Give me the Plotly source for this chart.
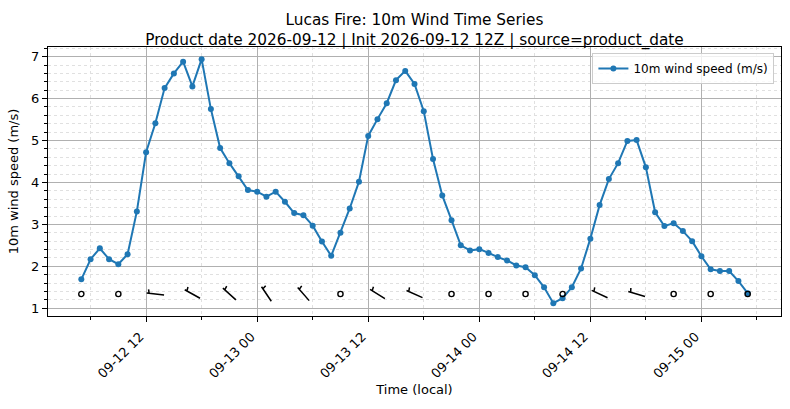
import numpy as np
import pandas as pd
import plotly.graph_objects as go

# hourly 10 m wind, local time
times = pd.date_range("2026-09-12 05:00", "2026-09-15 05:00", freq="h")
wind_speed = [
    1.69, 2.17, 2.43, 2.17, 2.05, 2.29, 3.31, 4.72, 5.41, 6.25, 6.60, 6.88,
    6.29, 6.94, 5.75, 4.82, 4.46, 4.15, 3.82,
    3.78, 3.66, 3.78, 3.54, 3.27, 3.22, 2.97, 2.59, 2.25, 2.80, 3.38, 4.02,
    5.11, 5.51, 5.89, 6.44, 6.66, 6.35, 5.70, 4.56, 3.69, 3.10, 2.50, 2.38,
    2.41, 2.32, 2.22, 2.14, 2.02, 1.98, 1.79, 1.50, 1.12, 1.24, 1.50, 1.95,
    2.66, 3.46, 4.08, 4.46, 4.99, 5.01, 4.36, 3.29, 2.96, 3.03, 2.84, 2.60,
    2.24, 1.93, 1.89, 1.89, 1.65, 1.36,
]

# barbs every 4 h, direction the wind blows from (deg), None = calm
barb_times = times[::4]
barb_dir = [None, None, 276, 299, 312, 326, 319, None, 302, 294,
            None, None, None, None, 295, 287, None, None, None]
barb_level = 1.34

title = ("Lucas Fire: 10m Wind Time Series<br>"
         "Product date 2026-09-12 | Init 2026-09-12 12Z | source=product_date")

FONT = "DejaVu Sans"
BLUE = "#1f77b4"

fig = go.Figure()
fig.add_trace(go.Scatter(
    x=times, y=wind_speed, mode="lines+markers", name="10m wind speed (m/s)",
    line=dict(color=BLUE, width=2), marker=dict(size=6, color=BLUE),
))

# wind barbs drawn as pixel-sized shapes anchored on the data
staff = 17.5
shapes = []
for t, d in zip(barb_times, barb_dir):
    if d is None:
        shapes.append(dict(
            type="circle", xref="x", yref="y", xsizemode="pixel", ysizemode="pixel",
            xanchor=t, yanchor=barb_level, x0=-2.6, x1=2.6, y0=-2.6, y1=2.6,
            line=dict(color="black", width=1.4), layer="above"))
        continue
    r = np.radians(d)
    ux, uy = np.sin(r), np.cos(r)
    nx, ny = uy, -ux
    ex, ey = ux * staff / 2, uy * staff / 2
    px, py = ex - 2.5 * ux, ey - 2.5 * uy
    tx, ty = px + 4 * nx + 1 * ux, py + 4 * ny + 1 * uy
    path = (f"M {-ex:.2f},{-ey:.2f} L {ex:.2f},{ey:.2f} "
            f"M {px:.2f},{py:.2f} L {tx:.2f},{ty:.2f}")
    shapes.append(dict(
        type="path", xref="x", yref="y", xsizemode="pixel", ysizemode="pixel",
        xanchor=t, yanchor=barb_level, path=path,
        line=dict(color="black", width=1.5), layer="above"))

grid_major = "#b0b0b0"
grid_minor = "#e0e0e0"

fig.update_layout(
    width=790, height=409,
    margin=dict(l=48, r=9, t=47, b=93),
    paper_bgcolor="white", plot_bgcolor="white",
    font=dict(family=FONT, size=13, color="black"),
    title=dict(text=title, x=0.5, xref="paper", xanchor="center",
               yref="container", y=1 - 25 / 409, yanchor="middle",
               font=dict(size=15.3), automargin=False),
    shapes=shapes,
    showlegend=True,
    legend=dict(x=0.991, y=0.978, xanchor="right", yanchor="top",
                bgcolor="rgba(255,255,255,0.8)", bordercolor="#cccccc",
                borderwidth=1, font=dict(size=12)),
)

fig.update_xaxes(
    automargin=False,
    range=["2026-09-12 01:24", "2026-09-15 08:36"],
    tick0="2026-09-12 00:00", dtick=12 * 3600 * 1000, tickformat="%m-%d %H",
    tickangle=-45, ticks="outside", ticklen=5, tickcolor="black",
    ticklabelshift=-6, ticklabelstandoff=2,
    showline=True, linecolor="black", linewidth=1, mirror=True,
    showgrid=True, gridcolor=grid_major, gridwidth=1,
    minor=dict(dtick=6 * 3600 * 1000, ticks="outside", ticklen=3,
               tickcolor="black", showgrid=True, gridcolor=grid_minor,
               griddash="dot"),
    title=dict(text="Time (local)", font=dict(size=13), standoff=4),
    zeroline=False,
)
fig.update_yaxes(
    automargin=False,
    range=[0.816, 7.23], dtick=1, tick0=0,
    ticks="outside", ticklen=5, tickcolor="black",
    showline=True, linecolor="black", linewidth=1, mirror=True,
    showgrid=True, gridcolor=grid_major, gridwidth=1,
    minor=dict(dtick=0.2, ticks="outside", ticklen=3, tickcolor="black",
               showgrid=True, gridcolor=grid_minor, griddash="dot"),
    title=dict(text="10m wind speed (m/s)", font=dict(size=13), standoff=9),
    zeroline=False,
)

# drop the browser's default body margin so the figure sits at 0,0
fig.write_html("out.html", config={"displayModeBar": False},
               post_script="document.body.style.margin='0';")
